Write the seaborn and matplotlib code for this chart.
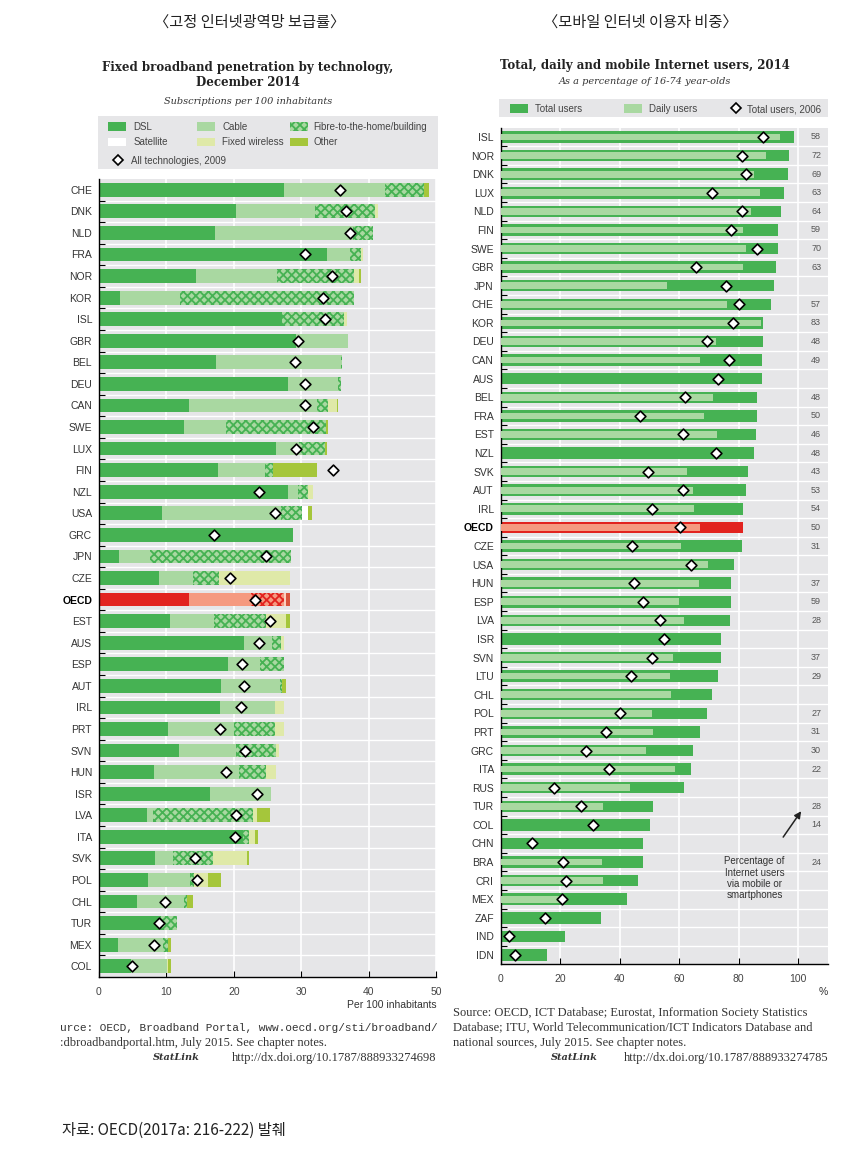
import matplotlib
matplotlib.use('Agg')
import matplotlib.pyplot as plt
from matplotlib.patches import Patch, Rectangle
from matplotlib.lines import Line2D
from matplotlib.ticker import FixedLocator, MultipleLocator
import numpy as np
import pandas as pd
import seaborn as sns

nan = np.nan

# left chart: fixed broadband subscriptions per 100 inhabitants, Dec 2014
bb_country = ['CHE', 'DNK', 'NLD', 'FRA', 'NOR', 'KOR', 'ISL', 'GBR', 'BEL', 'DEU',
              'CAN', 'SWE', 'LUX', 'FIN', 'NZL', 'USA', 'GRC', 'JPN', 'CZE', 'OECD',
              'EST', 'AUS', 'ESP', 'AUT', 'IRL', 'PRT', 'SVN', 'HUN', 'ISR', 'LVA',
              'ITA', 'SVK', 'POL', 'CHL', 'TUR', 'MEX', 'COL']
dsl = [27.5, 20.3, 17.2, 33.9, 14.4, 3.1, 27.2, 29.3, 17.4, 28.1,
       13.3, 12.6, 26.2, 17.6, 28.1, 9.4, 28.8, 3.0, 8.9, 13.3,
       10.5, 21.5, 19.2, 18.1, 17.9, 10.3, 11.8, 8.1, 16.4, 7.1,
       21.3, 8.3, 7.3, 5.6, 9.2, 2.8, 4.8]
cable = [15.0, 11.7, 20.5, 3.4, 12.0, 8.9, 0.0, 7.6, 18.5, 7.4,
         19.1, 6.2, 3.5, 7.1, 1.4, 17.6, 0.0, 4.6, 5.1, 9.3,
         6.5, 4.1, 4.7, 8.7, 8.2, 9.8, 8.6, 12.6, 9.1, 0.9,
         0.0, 2.7, 6.2, 7.0, 0.0, 6.7, 5.3]
fibre = [5.7, 8.9, 2.9, 1.6, 11.5, 25.8, 9.2, 0.0, 0.2, 0.4,
         1.6, 14.9, 3.9, 1.1, 1.5, 3.1, 0.0, 20.9, 3.8, 4.8,
         7.8, 1.4, 3.5, 0.4, 0.0, 6.0, 5.9, 4.1, 0.0, 14.9,
         0.9, 5.9, 0.6, 0.5, 2.4, 0.8, 0.0]
satellite = [0.0, 0.0, 0.0, 0.0, 0.0, 0.0, 0.0, 0.0, 0.0, 0.0,
             0.0, 0.0, 0.0, 0.0, 0.0, 0.9, 0.0, 0.0, 0.0, 0.0,
             0.0, 0.0, 0.0, 0.0, 0.0, 0.0, 0.0, 0.0, 0.0, 0.0,
             0.0, 0.0, 0.0, 0.0, 0.0, 0.0, 0.0]
wireless = [0.0, 0.5, 0.0, 0.3, 0.7, 0.0, 0.4, 0.0, 0.0, 0.0,
            1.3, 0.0, 0.0, 0.0, 0.7, 0.0, 0.0, 0.0, 10.6, 0.4,
            3.0, 0.5, 0.0, 0.0, 1.3, 1.3, 0.4, 1.4, 0.0, 0.5,
            0.9, 5.0, 2.1, 0.0, 0.0, 0.0, 0.2]
other = [0.7, 0.0, 0.0, 0.0, 0.2, 0.0, 0.0, 0.0, 0.0, 0.0,
         0.2, 0.3, 0.2, 6.5, 0.0, 0.6, 0.0, 0.0, 0.0, 0.5,
         0.5, 0.0, 0.0, 0.5, 0.0, 0.0, 0.0, 0.0, 0.0, 1.9,
         0.5, 0.3, 1.9, 0.9, 0.0, 0.4, 0.4]
all_2009 = [35.7, 36.6, 37.2, 30.6, 34.6, 33.3, 33.6, 29.5, 29.1, 30.6,
            30.6, 31.7, 29.2, 34.7, 23.7, 26.1, 17.1, 24.8, 19.4, 23.2,
            25.4, 23.8, 21.2, 21.5, 21.1, 17.9, 21.6, 18.8, 23.5, 20.4,
            20.2, 14.3, 14.6, 9.8, 8.9, 8.2, 4.9]

# right chart: internet users as % of 16-74 year-olds, 2014
net_country = ['ISL', 'NOR', 'DNK', 'LUX', 'NLD', 'FIN', 'SWE', 'GBR', 'JPN', 'CHE',
               'KOR', 'DEU', 'CAN', 'AUS', 'BEL', 'FRA', 'EST', 'NZL', 'SVK', 'AUT',
               'IRL', 'OECD', 'CZE', 'USA', 'HUN', 'ESP', 'LVA', 'ISR', 'SVN', 'LTU',
               'CHL', 'POL', 'PRT', 'GRC', 'ITA', 'RUS', 'TUR', 'COL', 'CHN', 'BRA',
               'CRI', 'MEX', 'ZAF', 'IND', 'IDN']
total_users = [98.5, 97.0, 96.5, 95.3, 94.1, 93.3, 93.3, 92.4, 92.0, 90.8,
               88.0, 88.0, 87.7, 87.7, 86.3, 86.0, 85.7, 85.2, 83.1, 82.6,
               81.5, 81.5, 81.1, 78.3, 77.5, 77.5, 77.0, 74.2, 73.9, 73.0,
               71.0, 69.4, 67.0, 64.5, 64.1, 61.7, 51.1, 50.3, 47.8, 47.8,
               46.2, 42.6, 33.6, 21.5, 15.5]
daily_users = [93.8, 89.1, 85.1, 87.3, 84.0, 81.6, 82.6, 81.6, 56.0, 75.9,
               87.5, 72.3, 67.0, nan, 71.4, 68.2, 72.7, nan, 62.6, 64.5,
               64.9, 67.0, 60.5, 69.8, 66.6, 60.0, 61.7, nan, 58.0, 56.9,
               57.2, 50.7, 51.1, 49.0, 58.6, 43.4, 34.5, nan, nan, 34.0,
               34.5, 20.0, nan, nan, nan]
total_2006 = [88.2, 81.2, 82.6, 71.1, 81.0, 77.3, 86.2, 65.6, 75.6, 80.0,
              78.2, 69.2, 76.8, 72.9, 62.0, 46.8, 61.1, 72.2, 49.6, 61.1,
              50.8, 60.1, 44.1, 63.8, 44.8, 47.8, 53.5, 54.9, 50.8, 43.8,
              nan, 40.2, 35.4, 28.8, 36.3, 17.9, 26.9, 31.1, 10.4, 21.1,
              21.9, 20.5, 15.0, 2.8, 4.8]
mobile_share = ['58', '72', '69', '63', '64', '59', '70', '63', '', '57',
                '83', '48', '49', '', '48', '50', '46', '48', '43', '53',
                '54', '50', '31', '', '37', '59', '28', '', '37', '29',
                '', '27', '31', '30', '22', '', '28', '14', '', '24',
                '', '', '', '', '']

GREEN = '#46b253'
LIGHT = '#a9d8a1'
WIRELESS = '#dfe9a8'
OTHER = '#a5c63b'
RED = '#e2231f'
SALMON = '#f59a80'
RED_WL = '#fbd0c0'
RED_OTHER = '#d9533b'
BG = '#e6e6e8'
SANS = ['Liberation Sans', 'DejaVu Sans']
SERIF = ['DejaVu Serif']
KR = ['Noto Sans CJK KR', 'DejaVu Sans']

sns.set_style('white')
plt.rcParams['font.family'] = SANS
plt.rcParams['hatch.linewidth'] = 1.3

W, H = 858.0, 1155.0
fig = plt.figure(figsize=(8.58, 11.55), dpi=100)


def fx(px):
    return px / W


def fy(py):
    return 1 - py / H


def style_axis(ax, n):
    ax.set_facecolor(BG)
    ax.set_ylim(n - 0.5, -0.5)
    ax.yaxis.set_minor_locator(FixedLocator(np.arange(n - 1) + 0.5))
    ax.set_axisbelow(True)
    ax.grid(axis='x', which='major', color='white', lw=1.2)
    ax.grid(axis='y', which='minor', color='white', lw=1.0)
    ax.tick_params(axis='y', which='major', length=0, labelsize=7.5, pad=5, labelcolor='#333')
    ax.tick_params(axis='y', which='minor', left=True, length=4, direction='in', color='black', width=0.8)
    ax.tick_params(axis='x', bottom=True, direction='in', length=4, color='black',
                   labelsize=7.5, labelcolor='#444', pad=7)
    for s in ['top', 'right']:
        ax.spines[s].set_visible(False)
    for s in ['left', 'bottom']:
        ax.spines[s].set_color('black')
        ax.spines[s].set_linewidth(1.0)
    ax.set_xlabel('')
    ax.set_ylabel('')
    for lab in ax.get_yticklabels():
        if lab.get_text() == 'OECD':
            lab.set_fontweight('bold')
            lab.set_color('black')


# ---------------- left: fixed broadband ----------------
ax1 = fig.add_axes([fx(99), fy(977), fx(436) - fx(99), (977 - 179) / H])
bb = pd.DataFrame({'country': bb_country, 'dsl': dsl, 'cable': cable, 'fibre': fibre,
                   'satellite': satellite, 'wireless': wireless, 'other': other,
                   'y2009': all_2009})
is_oecd = bb['country'].eq('OECD').to_numpy()

sns.barplot(data=bb, x='dsl', y='country', hue='country',
            palette={c: (RED if c == 'OECD' else GREEN) for c in bb_country},
            saturation=1, width=0.64, linewidth=0, legend=False, ax=ax1, zorder=2)

segments = [('cable', LIGHT, SALMON, None),
            ('fibre', LIGHT, SALMON, 'xxxx'),
            ('satellite', 'white', 'white', None),
            ('wireless', WIRELESS, RED_WL, None),
            ('other', OTHER, RED_OTHER, None)]
left = bb['dsl'].to_numpy(dtype=float).copy()
for col, gc, rc, hatch in segments:
    w = bb[col].to_numpy(dtype=float)
    face = np.where(is_oecd, rc, gc)
    edge = np.where(is_oecd, RED, GREEN) if hatch else face
    ax1.barh(bb['country'], w, left=left, height=0.64, color=face, edgecolor=edge,
             hatch=hatch, linewidth=0, zorder=2)
    left += w

sns.scatterplot(data=bb, x='y2009', y='country', marker='D', s=30, color='white',
                edgecolor='black', linewidth=1.2, zorder=5, legend=False, ax=ax1)

ax1.set_xlim(0, 50)
ax1.xaxis.set_major_locator(MultipleLocator(10))
style_axis(ax1, len(bb_country))

# ---------------- right: internet users ----------------
ax2 = fig.add_axes([fx(500.7), fy(964.3), fx(828) - fx(500.7), (964.3 - 127.7) / H])
net = pd.DataFrame({'country': net_country, 'total': total_users, 'daily': daily_users,
                    'y2006': total_2006, 'mobile': mobile_share})

sns.barplot(data=net, x='total', y='country', hue='country',
            palette={c: (RED if c == 'OECD' else GREEN) for c in net_country},
            saturation=1, width=0.62, linewidth=0, legend=False, ax=ax2, zorder=2)
sub = net[net['daily'].notna()]
ax2.barh(sub['country'], sub['daily'], height=0.36,
         color=np.where(sub['country'].eq('OECD'), SALMON, LIGHT), linewidth=0, zorder=3)
sns.scatterplot(data=net.dropna(subset=['y2006']), x='y2006', y='country', marker='D', s=30,
                color='white', edgecolor='black', linewidth=1.2, zorder=5, legend=False, ax=ax2)

for c, m in zip(net['country'], net['mobile']):
    if m:
        ax2.text(106, c, m, ha='center', va='center', fontsize=6.5, color='#555')

ax2.set_xlim(0, 110)
ax2.set_xticks([0, 20, 40, 60, 80, 100])
style_axis(ax2, len(net_country))

ax2.annotate('Percentage of\nInternet users\nvia mobile or\nsmartphones',
             xy=(0.918, 0.183), xycoords='axes fraction',
             xytext=(0.776, 0.103), textcoords='axes fraction',
             ha='center', va='center', fontsize=7, color='#333', linespacing=1.15,
             arrowprops=dict(arrowstyle='-|>', color='#222', lw=1.1,
                             shrinkA=14, shrinkB=0, mutation_scale=10))

# ---------------- legends ----------------
fig.patches.append(Rectangle((fx(98), fy(169)), fx(438) - fx(98), (169 - 116) / H,
                             transform=fig.transFigure, facecolor=BG, edgecolor='none', zorder=0))
fig.patches.append(Rectangle((fx(499), fy(117)), fx(828) - fx(499), (117 - 99) / H,
                             transform=fig.transFigure, facecolor=BG, edgecolor='none', zorder=0))

diamond = Line2D([], [], marker='D', ls='none', markerfacecolor='white',
                 markeredgecolor='black', markersize=5.5, markeredgewidth=1.2)
leg_kw = dict(loc='upper left', frameon=False, borderpad=0, borderaxespad=0, fontsize=7,
              handlelength=1.8, handleheight=0.95, handletextpad=0.8, labelspacing=0.55,
              labelcolor='#444')


def put_legend(handles, labels, x_px, y_px, **kw):
    opts = dict(leg_kw)
    opts.update(kw)
    fig.legend(handles, labels, bbox_to_anchor=(fx(x_px), fy(y_px)), **opts)


put_legend([Patch(fc=GREEN, lw=0), Patch(fc='white', lw=0)], ['DSL', 'Satellite'], 108, 122)
put_legend([Patch(fc=LIGHT, lw=0), Patch(fc=WIRELESS, lw=0)], ['Cable', 'Fixed wireless'], 197, 122)
put_legend([Patch(fc=LIGHT, ec=GREEN, hatch='xxxx', lw=0), Patch(fc=OTHER, lw=0)],
           ['Fibre-to-the-home/building', 'Other'], 290, 122, handletextpad=0.6)
put_legend([diamond], ['All technologies, 2009'], 112, 156, handlelength=1.2)

put_legend([Patch(fc=GREEN, lw=0)], ['Total users'], 510, 104)
put_legend([Patch(fc=LIGHT, lw=0)], ['Daily users'], 624, 104)
put_legend([diamond], ['Total users, 2006'], 731, 104, handlelength=1.0, handletextpad=0.6)

# ---------------- texts ----------------
fig.text(fx(250), fy(22), '〈고정 인터넷광역망 보급률〉', ha='center', va='center',
         fontsize=11, family=KR, color='#222')
fig.text(fx(640), fy(22), '〈모바일 인터넷 이용자 비중〉', ha='center', va='center',
         fontsize=11, family=KR, color='#222')

fig.text(fx(248), fy(75), 'Fixed broadband penetration by technology,\nDecember 2014',
         ha='center', va='center', fontsize=8.5, fontweight='bold', family=SERIF,
         linespacing=1.1, color='#222')
fig.text(fx(248), fy(101), 'Subscriptions per 100 inhabitants', ha='center', va='center',
         fontsize=7, style='italic', family=SERIF, color='#333')
fig.text(fx(645), fy(65), 'Total, daily and mobile Internet users, 2014',
         ha='center', va='center', fontsize=8.5, fontweight='bold', family=SERIF, color='#222')
fig.text(fx(645), fy(82), 'As a percentage of 16-74 year-olds', ha='center', va='center',
         fontsize=7, style='italic', family=SERIF, color='#333')

fig.text(fx(437), fy(1005), 'Per 100 inhabitants', ha='right', va='center', fontsize=7.5, color='#333')
fig.text(fx(823), fy(992), '%', ha='center', va='center', fontsize=7.5, color='#333')

fig.text(fx(60), fy(1028), 'urce: OECD, Broadband Portal, www.oecd.org/sti/broadband/',
         ha='left', va='center', fontsize=8, family=['Liberation Mono'], color='#333')
src_kw = dict(ha='left', va='center', fontsize=9, family=['Liberation Serif'], color='#333')
fig.text(fx(60), fy(1043), ':dbroadbandportal.htm, July 2015. See chapter notes.', **src_kw)
fig.text(fx(453), fy(1013), 'Source: OECD, ICT Database; Eurostat, Information Society Statistics', **src_kw)
fig.text(fx(453), fy(1028), 'Database; ITU, World Telecommunication/ICT Indicators Database and', **src_kw)
fig.text(fx(453), fy(1043), 'national sources, July 2015. See chapter notes.', **src_kw)

link_kw = dict(ha='right', va='center', fontsize=9, family=['Liberation Serif'], color='#333')
fig.text(fx(436), fy(1058), 'http://dx.doi.org/10.1787/888933274698', **link_kw)
fig.text(fx(828), fy(1058), 'http://dx.doi.org/10.1787/888933274785', **link_kw)
stat_kw = dict(ha='right', va='center', fontsize=7, style='italic', fontweight='bold',
               family=SERIF, color='#333')
fig.text(fx(200), fy(1058), 'StatLink', **stat_kw)
fig.text(fx(598), fy(1058), 'StatLink', **stat_kw)

fig.text(fx(62), fy(1130), '자료: OECD(2017a: 216-222) 발췌', ha='left', va='center',
         fontsize=11, family=KR, color='#222')

fig.savefig('out.png', dpi=100)
